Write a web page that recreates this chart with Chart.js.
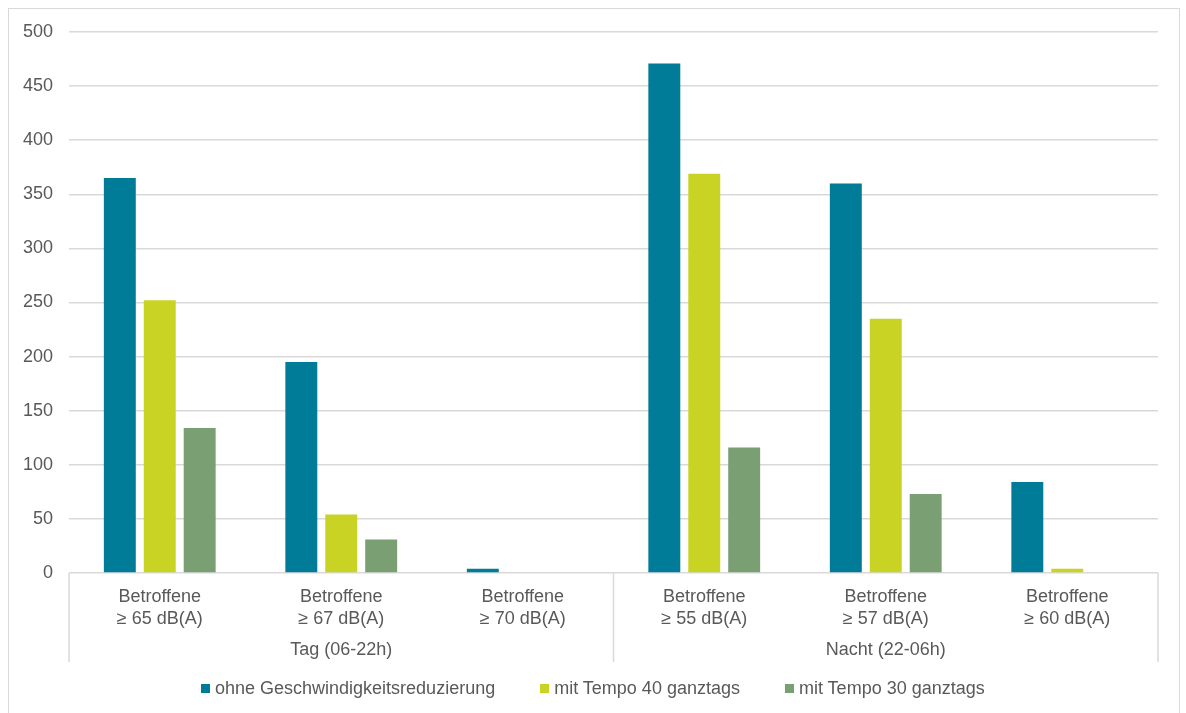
<!DOCTYPE html>
<html>
<head>
<meta charset="utf-8">
<script src="https://cdn.jsdelivr.net/npm/chart.js@4"></script>
<style>
  html, body { margin:0; padding:0; background:#fff; }
  body { width:1186px; height:713px; position:relative; overflow:hidden;
         font-family:"Liberation Sans", Arial, sans-serif; }
  #frame { position:absolute; left:8px; top:8px; width:1172px; height:720px;
           border:1px solid #d9d9d9; box-sizing:border-box; }
  #wrap { position:absolute; left:0; top:0; width:1186px; height:713px; }
  #legend { position:absolute; left:201px; top:677px; display:flex; gap:45px;
            font-size:18px; color:#595959; line-height:22px; white-space:nowrap; }
  #legend span.box { display:inline-block; width:9px; height:9px; margin-right:5px;
                     vertical-align:1px; }
</style>
</head>
<body>
<div id="frame"></div>
<div id="wrap"><canvas id="chart" width="1186" height="713"></canvas></div>
<div id="legend"></div>
<script>
const categories = [
  ["Betroffene", "≥ 65 dB(A)"],
  ["Betroffene", "≥ 67 dB(A)"],
  ["Betroffene", "≥ 70 dB(A)"],
  ["Betroffene", "≥ 55 dB(A)"],
  ["Betroffene", "≥ 57 dB(A)"],
  ["Betroffene", "≥ 60 dB(A)"]
];
const groupLabels = ["Tag (06-22h)", "Nacht (22-06h)"];

const seriesNames = [
  "ohne Geschwindigkeitsreduzierung",
  "mit Tempo 40 ganztags",
  "mit Tempo 30 ganztags"
];
const ohneReduzierung = [365, 195, 4, 471, 360, 84];
const tempo40 = [252, 54, 0, 369, 235, 4];
const tempo30 = [134, 31, 0, 116, 73, 0];
const colors = ["#007b98", "#c8d323", "#7a9f72"];

const fontFamily = '"Liberation Sans", Arial, sans-serif';
const grey = "#595959";
const lineGrey = "#d9d9d9";

// vertical separators under the x axis (left, between groups, right)
const separators = {
  id: "separators",
  afterDraw(chart){
    const x = chart.scales.x, x2 = chart.scales.x2;
    const ctx = chart.ctx;
    const mid = (x.getPixelForValue(2) + x.getPixelForValue(3)) / 2;
    const top = chart.chartArea.bottom;
    const bottom = x2.top + 32;
    ctx.save();
    ctx.strokeStyle = lineGrey;
    ctx.lineWidth = 1.5;
    [chart.chartArea.left, mid, chart.chartArea.right].forEach(px => {
      ctx.beginPath();
      ctx.moveTo(px, top);
      ctx.lineTo(px, bottom);
      ctx.stroke();
    });
    ctx.restore();
  }
};

const chart = new Chart(document.getElementById("chart"), {
  type: "bar",
  data: {
    labels: categories,
    datasets: [
      { label: seriesNames[0], data: ohneReduzierung, backgroundColor: colors[0] },
      { label: seriesNames[1], data: tempo40, backgroundColor: colors[1] },
      { label: seriesNames[2], data: tempo30, backgroundColor: colors[2] }
    ]
  },
  options: {
    responsive: false,
    animation: false,
    layout: { padding: { left: 0, right: 28, top: 32, bottom: 48 } },
    datasets: { bar: { categoryPercentage: 0.66, barPercentage: 0.8 } },
    plugins: { legend: { display: false }, tooltip: { enabled: false } },
    scales: {
      y: {
        min: 0, max: 500,
        ticks: { stepSize: 50, padding: 16, color: grey,
                 font: { family: fontFamily, size: 18 } },
        grid: { color: lineGrey, lineWidth: 1.5, drawTicks: false },
        border: { display: false },
        afterFit(scale){ scale.width = 69; }
      },
      x: {
        ticks: { padding: 6, color: grey, maxRotation: 0, autoSkip: false,
                 font: { family: fontFamily, size: 18, lineHeight: 1.17 } },
        grid: { display: false },
        border: { display: false },
        afterFit(scale){ scale.height = 57; }
      },
      x2: {
        type: "category",
        position: "bottom",
        weight: 1,
        labels: groupLabels,
        offset: true,
        ticks: { padding: 2, color: grey, maxRotation: 0,
                 font: { family: fontFamily, size: 18, lineHeight: 1.17 } },
        grid: { display: false },
        border: { display: false },
        afterFit(scale){ scale.height = 35; }
      }
    }
  },
  plugins: [separators]
});

// legend as html below the canvas
const legend = document.getElementById("legend");
chart.data.datasets.forEach(ds => {
  const item = document.createElement("div");
  const box = document.createElement("span");
  box.className = "box";
  box.style.background = ds.backgroundColor;
  item.appendChild(box);
  item.appendChild(document.createTextNode(ds.label));
  legend.appendChild(item);
});
</script>
</body>
</html>
